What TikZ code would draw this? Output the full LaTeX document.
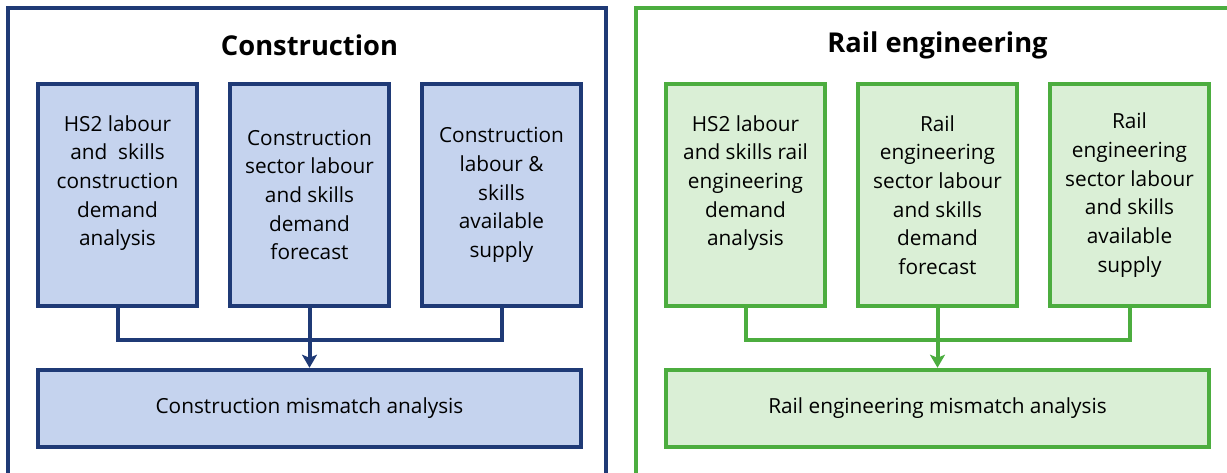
\documentclass[tikz,border=0pt]{standalone}
\usepackage{fontspec}
\setmainfont{Open Sans}
\usetikzlibrary{arrows.meta,calc}

\definecolor{navy}{RGB}{31,58,118}
\definecolor{paleblue}{RGB}{197,211,238}
\definecolor{grass}{RGB}{76,173,63}
\definecolor{palegreen}{RGB}{218,239,214}

\tikzset{
  frame/.style={line width=3.5pt},
  title/.style={font=\fontsize{27.3}{32}\selectfont\bfseries, anchor=center},
  inbox/.style={draw, line width=4.5pt, minimum width=159pt, minimum height=222pt,
    inner sep=0pt, align=center, font=\fontsize{20.8}{28.7}\selectfont},
  outbox/.style={draw, line width=4.5pt, minimum width=543pt, minimum height=77pt,
    inner sep=0pt, align=center, font=\fontsize{20.8}{28.7}\selectfont},
  link/.style={line width=4pt},
  feed/.style={line width=4pt, -{Stealth[width=15pt,length=13pt,inset=3pt]}},
  bluebox/.style={draw=navy, fill=paleblue},
  greenbox/.style={draw=grass, fill=palegreen},
}

\begin{document}
\begin{tikzpicture}[x=1pt,y=-1pt]
\useasboundingbox (0,0) rectangle (1227,473);
\clip (0,0) rectangle (1227,473);

% ---------- Construction panel ----------
\coordinate (cf1) at (8,480);
\coordinate (cf2) at (8,8);
\coordinate (cf3) at (606,8);
\coordinate (cf4) at (606,480);
\draw[frame, navy] (cf1) -- (cf2) -- (cf3) -- (cf4);
\node[title] (ct) at (309.5,45) {Construction};

\node[inbox, bluebox] (ca) at (117.5,195)
  {HS2 labour\\and~ skills\\construction\\demand\\analysis\\\mbox{}};
\node[inbox, bluebox] (cb) at (309.5,195)
  {Construction\\sector labour\\and skills\\demand\\forecast};
\node[inbox, bluebox] (cc) at (501.5,195)
  {Construction\\labour \&\\skills\\available\\supply};
\node[outbox, bluebox] (cm) at (309.5,408.5)
  {Construction mismatch analysis};

\coordinate (cj) at ($(cb.south)+(0,32)$);
\draw[link, navy] (ca.south) |- (cj) -| (cc.south);
\draw[feed, navy] (cb.south) -- (cm.north);

% ---------- Rail engineering panel ----------
\coordinate (rf1) at (636,480);
\coordinate (rf2) at (636,8);
\coordinate (rf3) at (1234,8);
\coordinate (rf4) at (1234,480);
\draw[frame, grass] (rf1) -- (rf2) -- (rf3) -- (rf4);
\node[title] (rt) at (937.5,45) {Rail engineering};

\node[inbox, greenbox] (ra) at (745.5,195)
  {HS2 labour\\and skills rail\\engineering\\demand\\analysis\\\mbox{}};
\node[inbox, greenbox] (rb) at (937.5,195)
  {Rail\\engineering\\sector labour\\and skills\\demand\\forecast};
\node[inbox, greenbox] (rc) at (1129.5,195)
  {Rail\\engineering\\sector labour\\and skills\\available\\supply};
\node[outbox, greenbox] (rm) at (937.5,408.5)
  {Rail engineering mismatch analysis};

\coordinate (rj) at ($(rb.south)+(0,32)$);
\draw[link, grass] (ra.south) |- (rj) -| (rc.south);
\draw[feed, grass] (rb.south) -- (rm.north);
\end{tikzpicture}
\end{document}
